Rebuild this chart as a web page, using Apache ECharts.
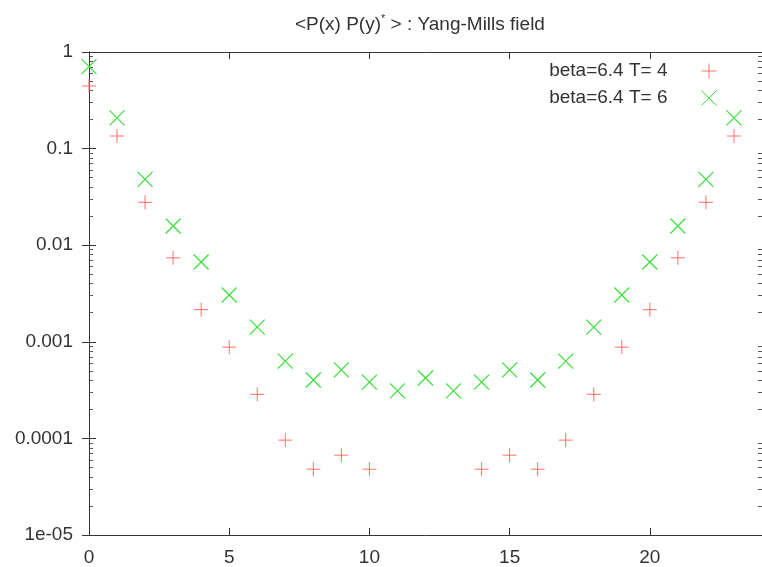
<!DOCTYPE html>
<html>
<head>
<meta charset="utf-8">
<script src="https://cdn.jsdelivr.net/npm/echarts@6/dist/echarts.min.js"></script>
<style>html,body{margin:0;padding:0;background:#fff;}#c{width:762px;height:567px;}</style>
</head>
<body>
<div id="c"></div>
<script>
// ---- data ----
const xValues = [0,1,2,3,4,5,6,7,8,9,10,11,12,13,14,15,16,17,18,19,20,21,22,23];
const seriesNames = ['beta=6.4 T= 4', 'beta=6.4 T= 6'];
const valuesT4 = [0.445, 0.135, 0.0278, 0.0074, 0.00215, 0.00088, 0.000286, 0.000096, 0.000048, 0.000067, 0.000048, null, null, null, 0.000048, 0.000067, 0.000048, 0.000096, 0.000286, 0.00088, 0.00215, 0.0074, 0.0278, 0.135];
const valuesT6 = [0.705, 0.208, 0.048, 0.0158, 0.0067, 0.00305, 0.00142, 0.00063, 0.000402, 0.000512, 0.000383, 0.00031, 0.000422, 0.00031, 0.000383, 0.000512, 0.000402, 0.00063, 0.00142, 0.00305, 0.0067, 0.0158, 0.048, 0.208];
const xTickValues = [0, 5, 10, 15, 20];
const yTickValues = [1e-5, 1e-4, 1e-3, 1e-2, 1e-1, 1];
const yTickLabels = ['1e-05', '0.0001', '0.001', '0.01', '0.1', '1'];
const titleText = '<P(x) P(y)* > : Yang-Mills field';

// minor tick positions of the log axis (2..9 within each decade)
const yMinorTicks = [];
for (let k = -5; k < 0; k++) for (let m = 2; m <= 9; m++) yMinorTicks.push(+(m * Math.pow(10, k)).toPrecision(6));

function pairs(ys) {
  const out = [];
  xValues.forEach((x, i) => { if (ys[i] != null) out.push([x, ys[i]]); });
  return out;
}
function yLabel(v) {
  for (let i = 0; i < yTickValues.length; i++) {
    if (Math.abs(Math.log10(v) - Math.log10(yTickValues[i])) < 1e-6) return yTickLabels[i];
  }
  return '';
}

const FONT = 'Liberation Sans';
const FS = 19;
const AX = '#333';
const RED = '#ff6e6e';
const GREEN = '#36e036';
const PLUS = 'path://M0,5L10,5M5,0L5,10';
const CROSS = 'path://M0,0L10,10M0,10L10,0';

const chart = echarts.init(document.getElementById('c'), null, {renderer: 'canvas'});

const titleParts = titleText.split('*');

function xAx(pos, labels) {
  return {
    type: 'value', position: pos, min: 0, max: 24,
    axisLine: {show: true, lineStyle: {color: AX, width: 1}},
    axisTick: {show: true, inside: true, length: 7, customValues: xTickValues, lineStyle: {color: AX}},
    axisLabel: {show: labels, customValues: xTickValues, fontFamily: FONT, fontSize: FS, color: '#333', margin: 13},
    splitLine: {show: false}
  };
}
function yAx(pos, labels, minor) {
  const a = {
    type: 'log', logBase: 10, position: pos, min: 1e-5, max: 1, splitNumber: 5,
    axisLine: {show: !minor, lineStyle: {color: AX, width: 1}},
    axisTick: {show: true, inside: true, length: minor ? 4 : 7, lineStyle: {color: minor ? '#555' : AX}},
    axisLabel: {show: labels, formatter: yLabel, fontFamily: FONT, fontSize: FS, color: '#333', margin: 16},
    splitLine: {show: false}
  };
  if (minor) {
    a.axisTick.customValues = yMinorTicks;
    a.axisLabel.show = false;
  }
  return a;
}

chart.setOption({
  backgroundColor: '#fff',
  animation: false,
  title: {
    text: '{a|' + titleParts[0] + '}{s|*}{a|' + titleParts[1] + '}',
    left: 290, top: 8,
    textStyle: {
      fontWeight: 'normal',
      rich: {
        a: {fontFamily: FONT, fontSize: FS, fontWeight: 'normal', color: '#333', lineHeight: 24},
        s: {fontFamily: FONT, fontSize: 11, fontWeight: 'normal', color: '#333', lineHeight: 24, verticalAlign: 'top', padding: [0, 0, 14, 0]}
      }
    }
  },
  legend: {
    orient: 'vertical', align: 'right', right: 43, top: 61, padding: 0,
    itemWidth: 15, itemHeight: 15, itemGap: 7,
    itemStyle: {borderWidth: 1},
    textStyle: {fontFamily: FONT, fontSize: FS, color: '#333', padding: [0, 29, 0, 0]},
    data: seriesNames
  },
  grid: {left: 89, right: 0, top: 52, bottom: 32, containLabel: false},
  xAxis: [xAx('bottom', true), xAx('top', false)],
  yAxis: [yAx('left', true, false), yAx('right', false, false), yAx('left', false, true), yAx('right', false, true)],
  series: [
    {
      name: seriesNames[0], type: 'scatter', xAxisIndex: 0, yAxisIndex: 0,
      symbol: PLUS, symbolSize: 14,
      itemStyle: {color: 'none', borderColor: RED, borderWidth: 1, opacity: 1},
      data: pairs(valuesT4)
    },
    {
      name: seriesNames[1], type: 'scatter', xAxisIndex: 0, yAxisIndex: 0,
      symbol: CROSS, symbolSize: 15,
      itemStyle: {color: 'none', borderColor: GREEN, borderWidth: 1.2, opacity: 1},
      data: pairs(valuesT6)
    }
  ]
});
</script>
</body>
</html>
